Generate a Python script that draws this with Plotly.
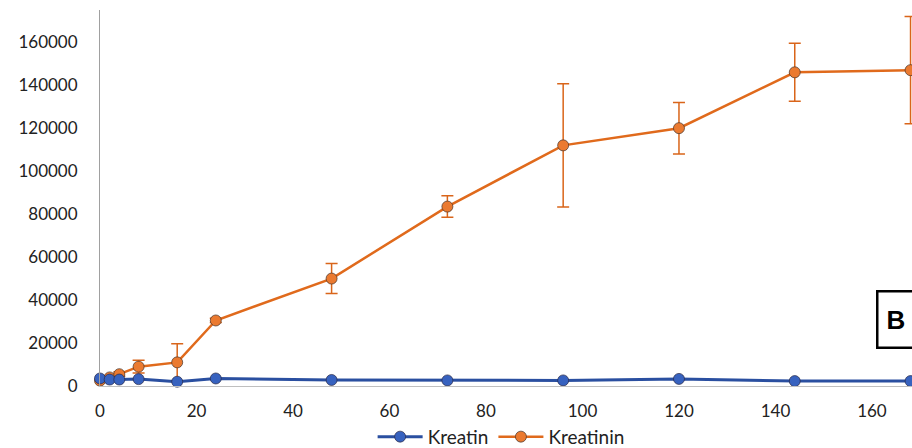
import plotly.graph_objects as go

hours = [0, 2, 4, 8, 16, 24, 48, 72, 96, 120, 144, 168]
kreatin = [3500, 3000, 3000, 3200, 2000, 3500, 2800, 2600, 2600, 3300, 2300, 2300]
kreatinin = [2500, 4000, 5500, 9000, 11000, 30500, 50000, 83500, 112000, 120000, 146000, 147000]
kreatinin_err = [500, 800, 1000, 3000, 8700, 1000, 7000, 5000, 28700, 12000, 13500, 25000]
x_ticks = [0, 20, 40, 60, 80, 100, 120, 140, 160]
y_ticks = [0, 20000, 40000, 60000, 80000, 100000, 120000, 140000, 160000]
y_labels = [str(v) for v in y_ticks]

FONT = "Lato"
fig = go.Figure()
fig.add_trace(go.Scatter(
    x=hours, y=kreatinin, name="Kreatinin", mode="lines+markers",
    line=dict(color="#E06A1C", width=2.5),
    marker=dict(size=11, color="#EB7A30", line=dict(color="rgba(70,50,40,0.7)", width=1)),
    error_y=dict(type="data", array=kreatinin_err, visible=True, color="#D9651A",
                 thickness=1.5, width=6),
    cliponaxis=False,
))
fig.add_trace(go.Scatter(
    x=hours, y=kreatin, name="Kreatin", mode="lines+markers",
    line=dict(color="#2A4FA0", width=3),
    marker=dict(size=11, color="#3762BF", line=dict(color="rgba(40,40,70,0.7)", width=1)),
    cliponaxis=False,
))

fig.update_layout(
    width=912, height=448,
    margin=dict(l=100, r=0, t=10, b=62, autoexpand=False),
    paper_bgcolor="white", plot_bgcolor="white",
    font=dict(family=FONT, size=18, color="#222222"),
    showlegend=True,
    legend=dict(orientation="h", x=0.494, xanchor="center", yref="container", y=0.025,
                yanchor="middle", traceorder="reversed", font=dict(size=19, color="#222222"),
                bgcolor="rgba(0,0,0,0)", itemwidth=45, tracegroupgap=0),
    xaxis=dict(range=[0, 168.3], tickvals=x_ticks, showgrid=False, zeroline=False,
               showline=True, linecolor="#BFBFBF", linewidth=1, ticks="", automargin=False,
               ticklabelstandoff=10, tickfont=dict(family=FONT, size=17, color="#222222")),
    yaxis=dict(range=[0, 175000], tickvals=y_ticks, ticktext=y_labels, showgrid=False,
               zeroline=False, showline=True, linecolor="#A0A0A0", linewidth=1, ticks="",
               automargin=False, ticklabelstandoff=18,
               tickfont=dict(family=FONT, size=17, color="#222222")),
)

fig.add_annotation(
    xref="paper", yref="paper", x=0.9557, y=0.178, xanchor="left", yanchor="middle",
    text="<b>B</b>", showarrow=False, align="left",
    font=dict(family="Liberation Sans", size=26, color="black"),
    bordercolor="black", borderwidth=2.5, borderpad=8, bgcolor="white",
    width=60, height=38,
)

fig.write_html("out.html", config={"displayModeBar": False},
               post_script="document.body.style.margin='0';document.body.style.overflow='hidden';")
